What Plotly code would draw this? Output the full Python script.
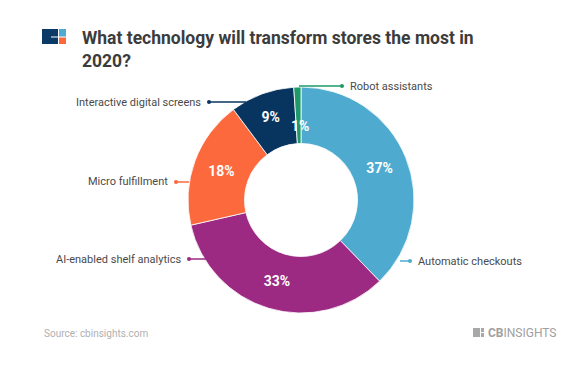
import plotly.graph_objects as go

labels = ["Automatic checkouts", "AI-enabled shelf analytics", "Micro fulfillment",
          "Interactive digital screens", "Robot assistants"]
values = [37, 33, 18, 9, 1]
colors = ["#4eabcf", "#9c2a82", "#fb693d", "#08355f", "#1e9a6a"]

W, H = 576, 384
def px(x):
    return x / W
def py(y):
    return 1 - y / H

texts = [f"{v}%" if v >= 5 else "" for v in values]

fig = go.Figure(go.Pie(
    labels=labels, values=values, hole=0.5, sort=False, direction="clockwise",
    rotation=0,
    marker=dict(colors=colors, line=dict(color="white", width=0.8)),
    text=texts, textinfo="text", textposition="inside",
    insidetextorientation="horizontal",
    textfont=dict(family="Roboto", size=14, color="white", weight="bold"),
    domain=dict(x=[px(188), px(414)], y=[py(313), py(87)]),
    showlegend=False, hoverinfo="label+value",
))

shapes = []
annotations = []

# leader lines: (label, y, x_slice, x_dot, side, color)
leaders = [
    ("Robot assistants", 86, 299, 342, "right", colors[4]),
    ("Automatic checkouts", 261, 400, 410, "right", colors[0]),
    ("AI-enabled shelf analytics", 259, 206, 189, "left", colors[1]),
    ("Micro fulfillment", 182, 189, 176, "left", colors[2]),
    ("Interactive digital screens", 102, 246, 209, "left", colors[3]),
]
for lab, y, xs, xd, side, c in leaders:
    shapes.append(dict(type="line", xref="paper", yref="paper",
                       x0=px(xs), x1=px(xd), y0=py(y), y1=py(y),
                       line=dict(color=c, width=1.5)))
    shapes.append(dict(type="circle", xref="paper", yref="paper",
                       x0=px(xd - 2), x1=px(xd + 2), y0=py(y - 2), y1=py(y + 2),
                       fillcolor=c, line=dict(width=0)))
    if side == "right":
        annotations.append(dict(text=lab, x=px(xd + 6), y=py(y), xref="paper", yref="paper",
                                xanchor="left", yanchor="middle", showarrow=False,
                                font=dict(family="Roboto", size=11, color="#4a4a4a")))
    else:
        annotations.append(dict(text=lab, x=px(xd - 6), y=py(y), xref="paper", yref="paper",
                                xanchor="right", yanchor="middle", showarrow=False,
                                font=dict(family="Roboto", size=11, color="#4a4a4a")))

# 1% label for the thin slice
annotations.append(dict(text="1%", x=px(300), y=py(116), xref="paper", yref="paper",
                        showarrow=False,
                        font=dict(family="Roboto", size=14, color="white", weight="bold")))

# Title
annotations.append(dict(text="What technology will transform stores the most in<br>2020?",
                        x=px(80), y=py(26), xref="paper", yref="paper", xanchor="left",
                        yanchor="top", align="left", showarrow=False,
                        font=dict(family="Roboto", size=17.5,
                                  color="#3c3c3c", weight="bold")))

# Logo
shapes += [
    dict(type="rect", xref="paper", yref="paper", x0=px(42), x1=px(58), y0=py(44), y1=py(29),
         fillcolor="#0b3a66", line=dict(width=0)),
    dict(type="rect", xref="paper", yref="paper", x0=px(59), x1=px(66), y0=py(36.5), y1=py(29),
         fillcolor="#4eabcf", line=dict(width=0)),
    dict(type="rect", xref="paper", yref="paper", x0=px(59), x1=px(66), y0=py(44), y1=py(37.5),
         fillcolor="#fb693d", line=dict(width=0)),
    dict(type="rect", xref="paper", yref="paper", x0=px(51), x1=px(58), y0=py(37.5), y1=py(36.5),
         fillcolor="white", line=dict(width=0)),
]

# Footer
annotations.append(dict(text="Source: cbinsights.com", x=px(42), y=py(333), xref="paper",
                        yref="paper", xanchor="left", yanchor="middle", showarrow=False,
                        font=dict(family="Roboto", size=10, color="#b0b0b0")))
shapes += [
    dict(type="rect", xref="paper", yref="paper", x0=px(473), x1=px(480), y0=py(337), y1=py(328),
         fillcolor="#a8a8a8", line=dict(width=0)),
    dict(type="rect", xref="paper", yref="paper", x0=px(481), x1=px(484), y0=py(332), y1=py(328),
         fillcolor="#a8a8a8", line=dict(width=0)),
    dict(type="rect", xref="paper", yref="paper", x0=px(481), x1=px(484), y0=py(337), y1=py(333),
         fillcolor="#a8a8a8", line=dict(width=0)),
]
annotations.append(dict(text="<b>CB</b>INSIGHTS", x=px(486), y=py(332.5), xref="paper",
                        yref="paper", xanchor="left", yanchor="middle", showarrow=False,
                        font=dict(family="Roboto", size=12, color="#a0a0a0")))

fig.update_layout(width=W, height=H, margin=dict(l=0, r=0, t=0, b=0),
                  paper_bgcolor="white", plot_bgcolor="white",
                  shapes=shapes, annotations=annotations)

fig.write_html("out.html", config={"displayModeBar": False},
               post_script="document.body.style.margin='0';document.body.style.overflow='hidden';")
